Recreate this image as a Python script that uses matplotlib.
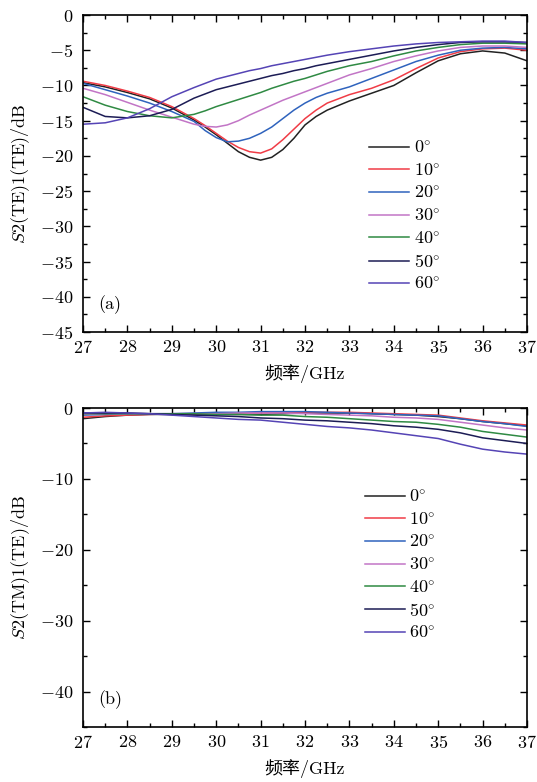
import matplotlib
matplotlib.use("Agg")
import matplotlib.pyplot as plt
from matplotlib.ticker import MultipleLocator

plt.rcParams['font.family'] = ['cmr10', 'Noto Sans CJK SC', 'DejaVu Sans']
plt.rcParams['mathtext.fontset'] = 'cm'
plt.rcParams['axes.formatter.use_mathtext'] = True
plt.rcParams['axes.unicode_minus'] = True

freq_te = [27, 27.5, 28, 28.5, 29, 29.5, 29.75, 30, 30.25, 30.5, 30.75, 31, 31.25,
           31.5, 31.75, 32, 32.25, 32.5, 33, 33.5, 34, 34.5, 35, 35.5, 36, 36.5, 37]
freq_tm = [27, 27.5, 28, 28.5, 29, 29.5, 30, 30.5, 31, 31.5, 32, 32.5, 33, 33.5,
           34, 34.5, 35, 35.5, 36, 36.5, 37]

angles = ["0", "10", "20", "30", "40", "50", "60"]
colors = ["#222222", "#f03c46", "#2f63bd", "#c275c6", "#2f8a43", "#1c1c55", "#5544b5"]

# S2(TE)1(TE) in dB
te_0 = [-9.6, -10.2, -11.0, -11.9, -13.2, -14.9, -15.9, -17.0, -18.2, -19.4, -20.2,
        -20.6, -20.2, -19.1, -17.5, -15.6, -14.4, -13.5, -12.2, -11.1, -10.0, -8.2,
        -6.5, -5.5, -5.1, -5.4, -6.5]
te_10 = [-9.4, -10.0, -10.8, -11.7, -13.0, -14.7, -15.7, -16.8, -17.9, -18.8, -19.4,
         -19.6, -19.0, -17.7, -16.2, -14.7, -13.5, -12.5, -11.3, -10.4, -9.2, -7.6,
         -6.1, -5.2, -4.8, -4.7, -5.0]
te_20 = [-9.7, -10.6, -11.5, -12.5, -13.7, -15.1, -16.4, -17.4, -18.0, -17.9, -17.5,
         -16.8, -15.9, -14.7, -13.5, -12.5, -11.7, -11.1, -10.2, -9.0, -7.8, -6.6,
         -5.7, -5.0, -4.7, -4.6, -4.8]
te_30 = [-10.4, -11.3, -12.4, -13.5, -14.5, -15.5, -15.8, -15.9, -15.6, -15.0, -14.2,
         -13.5, -12.8, -12.1, -11.5, -10.9, -10.3, -9.7, -8.5, -7.6, -6.6, -5.8,
         -5.1, -4.6, -4.4, -4.4, -4.6]
te_40 = [-11.6, -12.8, -13.7, -14.3, -14.6, -14.1, -13.6, -13.0, -12.5, -12.0, -11.5,
         -11.0, -10.4, -9.9, -9.4, -9.0, -8.5, -8.0, -7.2, -6.6, -5.8, -5.1,
         -4.6, -4.2, -4.0, -4.0, -4.1]
te_50 = [-13.1, -14.4, -14.6, -14.3, -13.4, -11.8, -11.2, -10.6, -10.2, -9.8, -9.4,
         -9.0, -8.6, -8.3, -7.9, -7.6, -7.2, -6.9, -6.3, -5.7, -5.1, -4.6,
         -4.2, -3.9, -3.8, -3.8, -3.9]
te_60 = [-15.5, -15.3, -14.6, -13.3, -11.6, -10.3, -9.7, -9.1, -8.7, -8.3, -7.9,
         -7.6, -7.2, -6.9, -6.6, -6.3, -6.0, -5.7, -5.2, -4.8, -4.4, -4.1,
         -3.9, -3.8, -3.7, -3.7, -3.9]

# S2(TM)1(TE) in dB
tm_0 = [-1.5, -1.2, -1.0, -0.9, -0.9, -0.9, -0.9, -0.9, -0.9, -0.8, -0.7,
        -0.7, -0.7, -0.8, -0.9, -1.0, -1.2, -1.5, -1.9, -2.2, -2.5]
tm_10 = [-1.3, -1.1, -1.0, -0.9, -0.8, -0.8, -0.7, -0.7, -0.7, -0.6, -0.6,
         -0.6, -0.6, -0.7, -0.8, -0.9, -1.0, -1.4, -1.8, -2.1, -2.4]
tm_20 = [-1.0, -0.9, -0.8, -0.8, -0.8, -0.7, -0.6, -0.6, -0.5, -0.5, -0.5,
         -0.6, -0.7, -0.8, -0.9, -1.0, -1.1, -1.5, -1.9, -2.2, -2.6]
tm_30 = [-0.9, -0.8, -0.8, -0.8, -0.8, -0.8, -0.8, -0.7, -0.7, -0.7, -0.8,
         -0.9, -1.0, -1.1, -1.3, -1.4, -1.6, -2.0, -2.4, -2.8, -3.1]
tm_40 = [-0.8, -0.8, -0.8, -0.8, -0.8, -0.8, -0.9, -0.9, -1.0, -1.0, -1.2,
         -1.3, -1.5, -1.7, -1.9, -2.0, -2.3, -2.7, -3.3, -3.7, -4.1]
tm_50 = [-0.7, -0.7, -0.7, -0.8, -0.9, -1.0, -1.1, -1.2, -1.4, -1.5, -1.7,
         -1.8, -2.0, -2.2, -2.5, -2.7, -3.0, -3.5, -4.2, -4.6, -5.0]
tm_60 = [-0.7, -0.6, -0.7, -0.8, -1.0, -1.2, -1.4, -1.6, -1.7, -2.0, -2.3,
         -2.6, -2.8, -3.1, -3.5, -3.9, -4.3, -5.1, -5.8, -6.2, -6.5]

te_series = [te_0, te_10, te_20, te_30, te_40, te_50, te_60]
tm_series = [tm_0, tm_10, tm_20, tm_30, tm_40, tm_50, tm_60]

fig = plt.figure(figsize=(5.37, 7.82), dpi=100)
ax1 = fig.add_axes([0.1546, 0.5754, 0.8268, 0.4054])
ax2 = fig.add_axes([0.1546, 0.0703, 0.8268, 0.4079])

FS = 13

def style(ax, ymajor, yminor):
    ax.set_xlim(27, 37)
    ax.set_ylim(-45, 0)
    ax.xaxis.set_major_locator(MultipleLocator(1))
    ax.xaxis.set_minor_locator(MultipleLocator(0.5))
    ax.yaxis.set_major_locator(MultipleLocator(ymajor))
    ax.yaxis.set_minor_locator(MultipleLocator(yminor))
    ax.tick_params(which='both', direction='in', top=True, right=True,
                   width=1.0, labelsize=FS)
    ax.tick_params(axis='y', pad=7)
    ax.tick_params(axis='x', pad=5)
    ax.tick_params(which='major', length=5)
    ax.tick_params(which='minor', length=3)
    for s in ax.spines.values():
        s.set_linewidth(1.2)
    ax.set_xlabel("频率/GHz", fontsize=FS, labelpad=6)

for ser, a, c in zip(te_series, angles, colors):
    ax1.plot(freq_te, ser, color=c, lw=1.1, label=a + r"$^{\circ}$")
for ser, a, c in zip(tm_series, angles, colors):
    ax2.plot(freq_tm, ser, color=c, lw=1.1, label=a + r"$^{\circ}$")

style(ax1, 5, 2.5)
style(ax2, 10, 5)
ax1.set_ylabel(r"$S$2(TE)1(TE)/dB", fontsize=FS, labelpad=6)
ax2.set_ylabel(r"$S$2(TM)1(TE)/dB", fontsize=FS, labelpad=6)

for ax, anchor in ((ax1, (0.645, 0.607)), (ax2, (0.635, 0.748))):
    ax.legend(loc='upper left', bbox_to_anchor=anchor, frameon=False,
              fontsize=13, handlelength=2.2, handletextpad=0.25,
              labelspacing=0.34, borderpad=0, borderaxespad=0)

ax1.text(0.035, 0.085, "(a)", transform=ax1.transAxes, fontsize=FS, va='center')
ax2.text(0.035, 0.085, "(b)", transform=ax2.transAxes, fontsize=FS, va='center')

fig.savefig("out.png", dpi=100)
